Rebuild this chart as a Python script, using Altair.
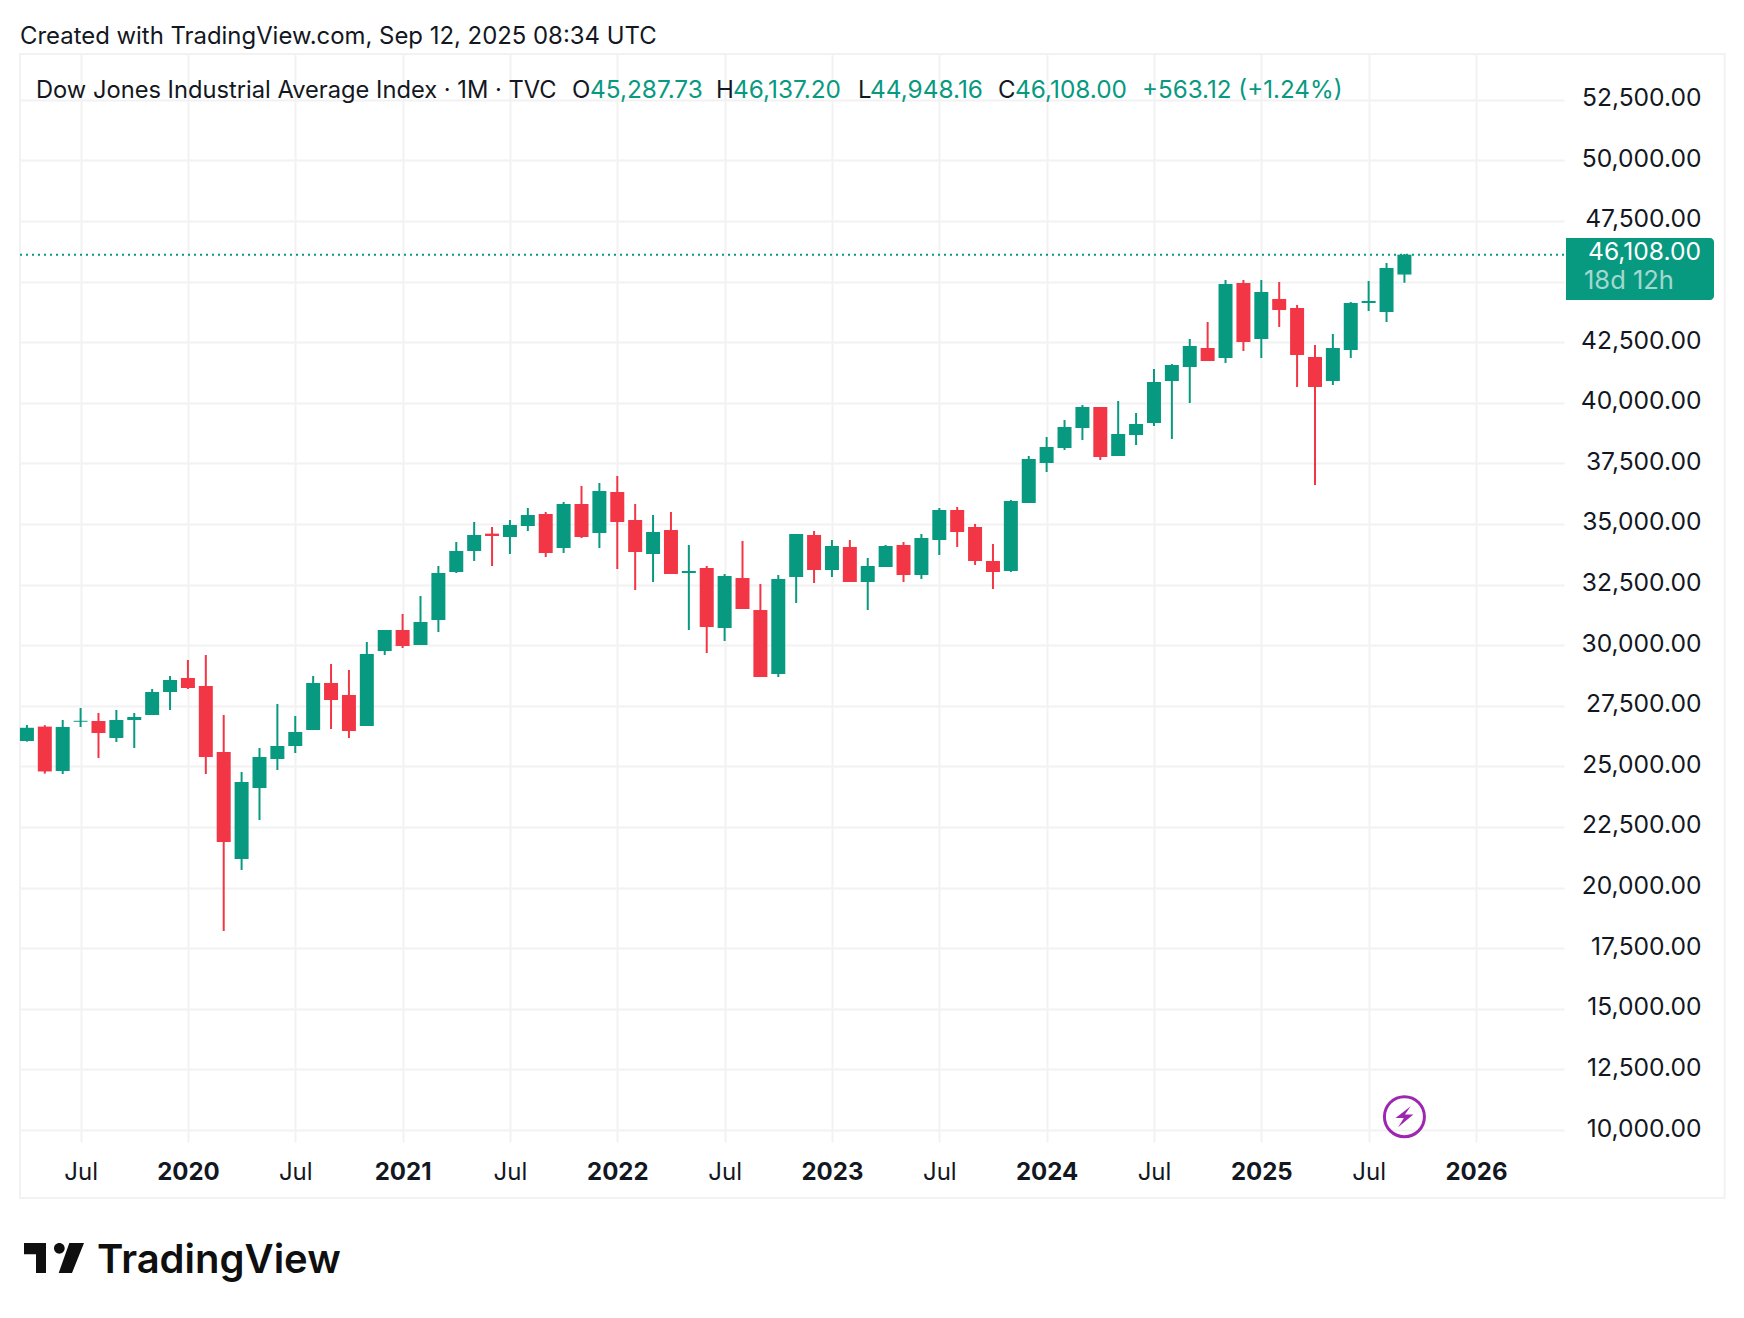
import altair as alt
import pandas as pd

FONT = "Inter"
UP, DOWN, INK = "#089981", "#f23645", "#131722"
GRID = "#f2f2f3"

# month index: Jul 2019 = 0
first_month = -3
opens = [26046,26640,24808,26840,26871,26170,26912,27118,28067,28645,28315,25592,21178,24107,25304,25840,
         26500,28439,27944,26665,29759,30625,30006,31037,33017,33884,34600,34461,34915,35410,34008,35822,
         34626,36317,35162,33760,34750,32976,33182,30707,32770,31450,28810,32811,34544,33100,34049,32605,
         33224,34131,32894,34337,35575,34874,33471,33059,35864,37514,38132,38957,39824,37802,38669,39164,
         40896,41474,42257,41845,44939,42629,44279,43907,41886,40896,42175,44114,43742,45287.73]
highs = [26706,26700,26912,27407,27201,27325,27201,28191,28727,29387,29594,27118,24767,25757,27572,27077,
         28727,29222,28975,30130,30625,31285,32027,33265,34255,35080,34874,35162,35657,35492,35905,36565,
         36689,36977,35822,35369,35492,34131,33265,32935,34296,32522,32894,34585,34709,34337,34337,33595,
         34131,34255,34585,35657,35699,35000,34172,35987,37802,38586,39287,39906,39824,40071,39576,41391,
         41597,42629,43330,45062,45062,45062,44980,44031,42381,42835,44155,45021,45764,46137.20]
lows = [26020,24700,24685,26624,25345,26005,25757,27118,27325,28191,24685,18209,20725,22787,24850,25551,
        26500,26541,26170,26665,29594,29882,30006,30542,32976,33471,33265,33760,34709,33636,33801,34420,
        34008,33141,32275,32605,32935,30625,29676,30171,31491,28686,28686,31739,32564,32811,32605,31450,
        33224,32605,32729,33719,34049,33306,32316,33017,35864,37142,38050,38462,37637,37802,38256,39040,
        38504,39989,41721,41639,42134,41845,43124,40649,36606,40731,41845,43784,43330,44948.16]
closes = [26592,24790,26623,26880,26376,26912,27036,28067,28562,28232,25386,21880,24355,25386,25840,26417,
          28439,27737,26459,29635,30625,29965,30955,32976,33884,34544,34503,34956,35369,33801,35822,34461,
          36359,35080,33842,34667,32935,33059,30749,32852,31491,28686,32729,34585,33100,34090,32605,33265,
          34090,32894,34420,35575,34667,33471,33017,35946,37679,38174,38999,39824,37761,38710,39122,40855,
          41556,42340,41721,44897,42505,44567,43825,41969,40649,42257,44114,44196,45557,46108.00]

y_ticks = [10000 + 2500 * k for k in range(18)]
x_ticks = [6 * k for k in range(14)]
last_close = closes[-1]

title_text = "Created with TradingView.com, Sep 12, 2025 08:34 UTC"
symbol_text = "Dow Jones Industrial Average Index · 1M · TVC"
ohlc_parts = [("O", "45,287.73", 572, 590), ("H", "46,137.20", 716, 733),
              ("L", "44,948.16", 858, 870), ("C", "46,108.00", 998, 1015)]
change_text = "+563.12 (+1.24%)"
price_text = "46,108.00"
countdown_text = "18d 12h"
brand_text = "TradingView"

df = pd.DataFrame({"i": [first_month + n for n in range(len(opens))],
                   "o": opens, "h": highs, "l": lows, "c": closes})
df["dir"] = ["up" if c >= o else "down" for o, c in zip(opens, closes)]
df["top"] = df[["o", "c"]].max(axis=1)
df["bot"] = df[["o", "c"]].min(axis=1)

# pixel origin of the plot area inside the picture
OX, OY = 20, 54

x_scale = alt.Scale(domain=[-3.387, 82.92], nice=False, zero=False, padding=0)
y_scale = alt.Scale(domain=[9505, 54385], nice=False, zero=False, padding=0)
color = alt.Color("dir:N", scale=alt.Scale(domain=["up", "down"], range=[UP, DOWN]), legend=None)

x_axis = alt.Axis(
    values=x_ticks, title=None, grid=True, gridColor=GRID, gridWidth=2, domain=False, ticks=False,
    labelExpr="datum.value % 12 == 0 ? 'Jul' : toString(2020 + (datum.value - 6) / 12)",
    labelFontWeight={"condition": {"test": "datum.value % 12 == 6", "value": "bold"}, "value": "normal"},
    labelFont=FONT, labelFontSize=24, labelColor=INK, labelPadding=18, labelOverlap=False,
)
y_axis = alt.Axis(
    values=y_ticks, orient="right", title=None, format=",.2f", grid=True, gridColor=GRID, gridWidth=2,
    domain=False, ticks=False, labelFont=FONT, labelFontSize=24.6, labelColor=INK, labelPadding=137,
    labelAlign="right", labelOffset=-1, labelOverlap=False, labelFlush=False,
)

wicks = alt.Chart(df).mark_rule(strokeWidth=2).encode(
    x=alt.X("i:Q", scale=x_scale, axis=x_axis),
    y=alt.Y("l:Q", scale=y_scale, axis=y_axis),
    y2="h:Q", color=color,
)
bodies = alt.Chart(df).mark_bar(size=14, orient="vertical").encode(
    x=alt.X("i:Q", scale=x_scale), y=alt.Y("bot:Q", scale=y_scale), y2="top:Q", color=color,
)
price_line = alt.Chart(pd.DataFrame({"v": [last_close]})).mark_rule(
    color=UP, strokeWidth=2, strokeDash=[2, 4]
).encode(y=alt.Y("v:Q", scale=y_scale))

one = pd.DataFrame({"a": [0]})


def label(text, px, py, size, col=INK, weight="normal", opacity=1.0, align="left"):
    return alt.Chart(pd.DataFrame({"t": [text]})).mark_text(
        align=align, baseline="middle", font=FONT, fontSize=size, color=col, fontWeight=weight, opacity=opacity
    ).encode(x=alt.value(px - OX), y=alt.value(py - OY), text="t:N")


frame = alt.Chart(one).mark_rect(filled=False, stroke=GRID, strokeWidth=2).encode(
    x=alt.value(0), x2=alt.value(1704.6), y=alt.value(0), y2=alt.value(1144)
)
price_box = alt.Chart(one).mark_rect(
    color=UP, cornerRadiusTopRight=4, cornerRadiusBottomRight=4
).encode(x=alt.value(1566 - OX), x2=alt.value(1714 - OX), y=alt.value(238 - OY), y2=alt.value(300 - OY))

ring = alt.Chart(pd.DataFrame({"i": [74]})).mark_point(
    shape="circle", size=1600, filled=False, color="#9c27b0", strokeWidth=3, opacity=1
).encode(x=alt.X("i:Q", scale=x_scale), y=alt.value(1116.7 - OY))
bolt = alt.Chart(pd.DataFrame({"i": [74]})).mark_point(
    shape="M0.6,-1 L-0.85,0.12 L-0.05,0.12 L-0.6,1 L0.85,-0.2 L0.05,-0.2 Z",
    size=441, filled=True, color="#9c27b0", strokeWidth=0, opacity=1
).encode(x=alt.X("i:Q", scale=x_scale), y=alt.value(1116.7 - OY))

logo_path = ("M-1,-0.5 L-0.267,-0.5 L-0.267,0.5 L-0.6,0.5 L-0.6,-0.122 L-1,-0.122 Z "
             "M0,-0.322 A0.178,0.178 0 1 1 0.356,-0.322 A0.178,0.178 0 1 1 0,-0.322 Z "
             "M0.511,-0.5 L1,-0.5 L0.6,0.5 L0.156,0.5 Z")
logo = alt.Chart(one).mark_point(
    shape=logo_path, size=3600, filled=True, color="#0f0f0f", strokeWidth=0, opacity=1
).encode(x=alt.value(54 - OX), y=alt.value(1258 - OY))

texts = [label(title_text, 20, 37, 23.9),
         label(symbol_text, 36, 91, 23.7)]
for head, val, hx, vx in ohlc_parts:
    texts.append(label(head, hx, 91, 24))
    texts.append(label(val, vx, 91, 24.4, UP))
texts.append(label(change_text, 1142, 91, 24.2, UP))
texts.append(label(price_text, 1701, 253, 24.6, "#ffffff", align="right"))
texts.append(label(countdown_text, 1584, 281, 25.5, "#ffffff", opacity=0.62))
texts.append(label(brand_text, 97, 1261, 40, "#0f0f0f", 600))

chart = alt.layer(
    frame, wicks, bodies, price_line, price_box, ring, bolt, logo, *texts
).resolve_scale(x="shared", y="shared").properties(
    width=1544, height=1088,
    padding={"left": 12, "top": 46, "right": 165, "bottom": 150},
    autosize=alt.AutoSizeParams(type="none"),
    background="#ffffff",
).configure_view(stroke=None)

chart.save("out.html", embed_options={"renderer": "svg", "actions": False})
